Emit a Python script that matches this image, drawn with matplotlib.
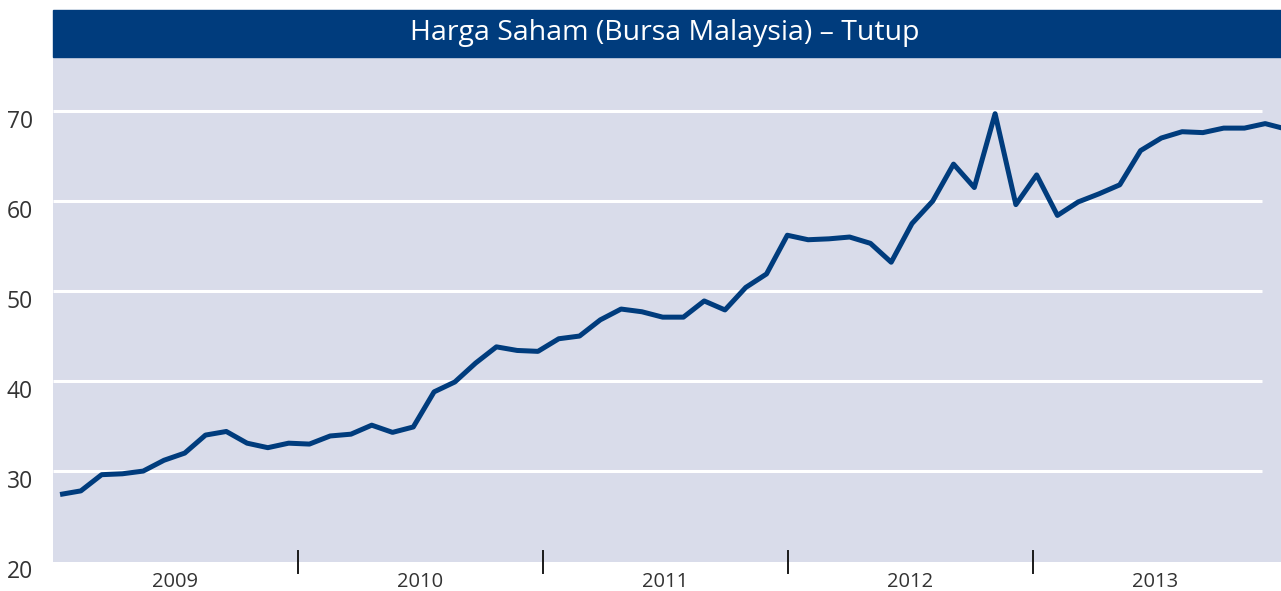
import numpy as np
import matplotlib.pyplot as plt
from matplotlib.patches import Rectangle
from matplotlib.transforms import ScaledTranslation

# Closing share price, one value per period, 2009 - 2013
harga_2009 = [27.4, 27.8, 29.6, 29.7, 30.0, 31.2, 32.0, 34.0, 34.4, 33.1, 32.6, 33.1]
harga_2010 = [33.0, 33.9, 34.1, 35.1, 34.3, 34.9, 38.8, 39.9, 42.0, 43.8, 43.4, 43.3]
harga_2011 = [44.7, 45.0, 46.8, 48.0, 47.7, 47.1, 47.1, 48.9, 47.9, 50.4, 51.9, 56.2]
harga_2012 = [55.7, 55.8, 56.0, 55.3, 53.2, 57.5, 60.0, 64.1, 61.5, 69.7, 59.6, 62.9]
harga_2013 = [58.4, 59.9, 60.8, 61.8, 65.6, 67.0, 67.7, 67.6, 68.1, 68.1, 68.6, 68.0]
years = ['2009', '2010', '2011', '2012', '2013']
y_ticks = [20, 30, 40, 50, 60, 70]
title = 'Harga Saham (Bursa Malaysia) \u2013 Tutup'

harga = harga_2009 + harga_2010 + harga_2011 + harga_2012 + harga_2013
x = np.arange(len(harga))

# layout
W, H = 1281, 591
navy = '#003c7d'
bg = '#d9dcea'
text_col = '#333333'
plt.rcParams['font.family'] = ['Open Sans', 'DejaVu Sans']

fig = plt.figure(figsize=(W / 100, H / 100), dpi=100)
ax = fig.add_axes([53 / W, (H - 562) / H, (W - 53) / W, (562 - 57) / H])
ax.set_facecolor(bg)
for s in ax.spines.values():
    s.set_visible(False)

x0, x1 = -0.34, 58.76
ax.set_xlim(x0, x1)
ax.set_ylim(19.9, 76.0)

# year boundaries on the index scale
bounds = np.linspace(x0, 58.6, len(years) + 1)

ax.hlines(y_ticks[1:], x0, 57.84, colors='white', lw=2.2, zorder=1)
ax.plot(x, harga, color=navy, lw=3.6, zorder=3, solid_capstyle='butt')

for b in bounds[1:-1]:
    ax.plot([b, b], [18.65, 21.1], color='#1a1a1a', lw=1.4, clip_on=False, zorder=4)
for i, yr in enumerate(years):
    ax.text((bounds[i] + bounds[i + 1]) / 2, 17.7, yr, ha='center', va='center',
            fontsize=14.5, color=text_col)

ax.set_xticks([])
ax.set_yticks(y_ticks)
ax.set_yticklabels([str(v) for v in y_ticks], fontsize=16.5, color=text_col)
ax.tick_params(axis='y', length=0, pad=14.4)
for lab in ax.get_yticklabels():
    lab.set_transform(lab.get_transform() + ScaledTranslation(0, -8 / 100, fig.dpi_scale_trans))

# title bar
fig.patches.append(Rectangle((53 / W, (H - 57) / H), (W - 53) / W, 47 / H,
                             transform=fig.transFigure, color=navy, zorder=0))
fig.text(665 / W, (H - 33) / H, title, ha='center', va='center',
         fontsize=20.5, color='white')

fig.savefig('out.png', dpi=100)
